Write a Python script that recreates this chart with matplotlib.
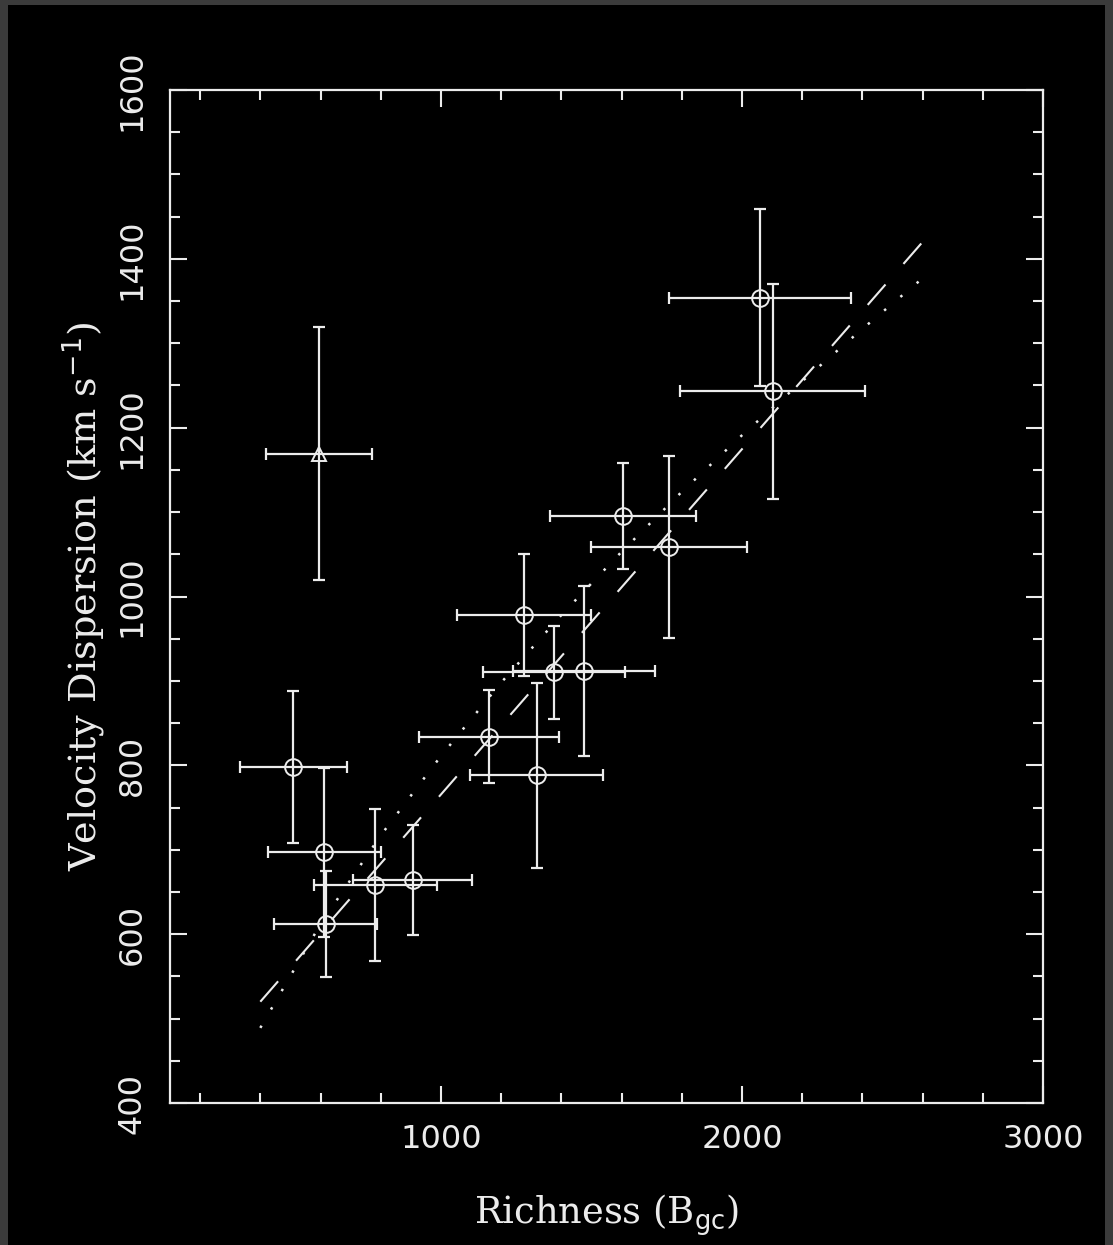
import matplotlib
matplotlib.use("Agg")
import matplotlib.pyplot as plt
from matplotlib.ticker import MultipleLocator
from matplotlib.patches import Rectangle

# open circles: clusters
rich = [510, 613, 617, 782, 906, 1160, 1318, 1276, 1376, 1475, 1605, 1757, 2059, 2102]
sigma = [798, 697, 612, 658, 664, 834, 788, 978, 910, 912, 1095, 1059, 1354, 1243]
rich_err = [177, 188, 170, 205, 197, 232, 222, 224, 235, 237, 243, 260, 303, 308]
sigma_err = [90, 100, 63, 90, 65, 55, 110, 72, 55, 101, 63, 108, 105, 127]

# open triangle: outlier
tri_rich = [595]
tri_sigma = [1169]
tri_rich_err = [175]
tri_sigma_err = [150]

# dashed linear fit
lin_x = [400, 2600]
lin_y = [520, 1420]

# dotted curve
curve_x = [400, 600, 800, 1000, 1200, 1400, 1600, 1800, 2000, 2200, 2400, 2600]
curve_y = [489, 612, 717, 811, 898, 978, 1053, 1124, 1191, 1255, 1317, 1377]

FG = "#ececec"

fig = plt.figure(figsize=(11.13, 12.45), dpi=100, facecolor="#3b3b3b")
fig.patches.append(Rectangle((8 / 1113, 0), (1105 - 8) / 1113, (1245 - 5) / 1245,
                             transform=fig.transFigure, facecolor="black",
                             edgecolor="none", zorder=-10))

ax = fig.add_axes([170 / 1113, 142 / 1245, 873 / 1113, 1013 / 1245])
ax.set_facecolor("black")

ax.plot(lin_x, lin_y, color=FG, lw=1.5, ls=(0, (13, 13.1)))
ax.plot(curve_x, curve_y, color=FG, lw=1.8, ls=(0, (1, 7.5)))

ax.errorbar(rich, sigma, xerr=rich_err, yerr=sigma_err, fmt="none",
            ecolor=FG, elinewidth=1.6, capsize=4, capthick=1.6)
ax.plot(rich, sigma, ls="none", marker="o", ms=12, mfc="none", mec=FG, mew=1.4)

ax.errorbar(tri_rich, tri_sigma, xerr=tri_rich_err, yerr=tri_sigma_err, fmt="none",
            ecolor=FG, elinewidth=1.6, capsize=4, capthick=1.6)
ax.plot(tri_rich, tri_sigma, ls="none", marker="^", ms=10, mfc="none", mec=FG, mew=1.4)

ax.set_xlim(100, 3000)
ax.set_ylim(400, 1600)
ax.xaxis.set_major_locator(MultipleLocator(1000))
ax.xaxis.set_minor_locator(MultipleLocator(200))
ax.yaxis.set_major_locator(MultipleLocator(200))
ax.yaxis.set_minor_locator(MultipleLocator(50))

for s in ax.spines.values():
    s.set_color(FG)
    s.set_linewidth(1.6)

ax.tick_params(which="both", direction="in", top=True, right=True, color=FG,
               labelcolor=FG, labelsize=23)
ax.tick_params(which="major", length=12, width=1.5)
ax.tick_params(which="minor", length=7, width=1.5)
ax.tick_params(axis="x", pad=15)
ax.tick_params(axis="y", pad=16, labelrotation=90)
for lab in ax.get_yticklabels():
    lab.set_va("center")

ax.set_xlabel(r"Richness (B$_{\rm gc}$)", color=FG, fontsize=26.5,
              family="DejaVu Serif", labelpad=27)
ax.set_ylabel(r"Velocity Dispersion (km s$^{-1}$)", color=FG, fontsize=27.5,
              family="DejaVu Serif", labelpad=6)

fig.savefig("out.png", dpi=100, facecolor=fig.get_facecolor())
